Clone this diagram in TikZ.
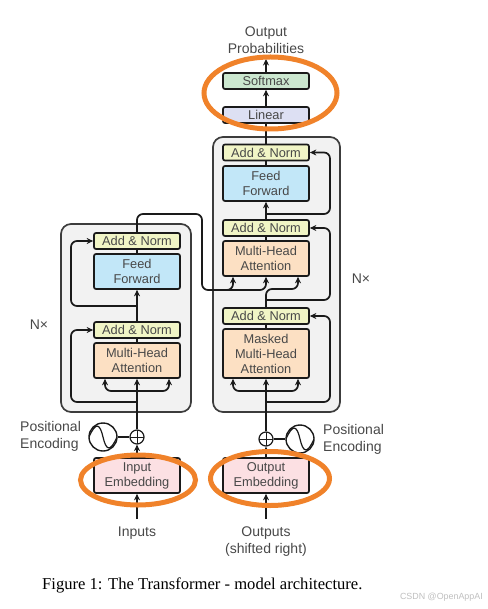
\documentclass[tikz,border=0pt]{standalone}
\usepackage{fontspec}
\setmainfont{Liberation Sans}
\newfontfamily\capfont{Liberation Serif}
\usetikzlibrary{arrows.meta,shapes.geometric}
\definecolor{cAN}{HTML}{F1F5C6}
\definecolor{cFF}{HTML}{C2E7F8}
\definecolor{cMH}{HTML}{FCE0C3}
\definecolor{cSM}{HTML}{CBE7CF}
\definecolor{cLN}{HTML}{DDE0F3}
\definecolor{cEM}{HTML}{FCE0E3}
\definecolor{cPN}{HTML}{F2F2F2}
\definecolor{cOR}{HTML}{F0822A}
\definecolor{cTX}{HTML}{484848}
\definecolor{cLI}{HTML}{1A1A1A}
\tikzset{
  x=1pt,y=-1pt,
  blockbox/.style={draw=cLI,line width=1.7pt,rounded corners=2pt,align=center,inner sep=0pt,
    minimum width=86pt,text=cTX,font=\fontsize{12.8}{15}\selectfont},
  panelbox/.style={draw=cLI!85,fill=cPN,line width=1.7pt,rounded corners=10pt,inner sep=0pt},
  flow/.style={draw=cLI,line width=1.7pt,rounded corners=6pt},
  arrowflow/.style={flow,-{Stealth[length=6.5pt,width=6pt]}},
  lbl/.style={text=cTX,align=center,inner sep=0pt,font=\fontsize{14}{17}\selectfont},
  lbll/.style={lbl,align=left},
  ring/.style={ellipse,draw=cOR,line width=5pt,inner sep=0pt},
  addcircle/.style={circle,draw=cLI,line width=1.2pt,minimum size=14pt,inner sep=0pt,
    path picture={\draw[cLI,line width=1pt] (path picture bounding box.north)--(path picture bounding box.south)
      (path picture bounding box.west)--(path picture bounding box.east);}},
  sinecircle/.style={circle,draw=cLI,line width=1.4pt,minimum size=28pt,inner sep=0pt,
    path picture={\draw[cLI,line width=1.2pt] ([xshift=-14pt]path picture bounding box.center)
      .. controls ([xshift=-7pt,yshift=16pt]path picture bounding box.center)
      and ([xshift=-3pt,yshift=13pt]path picture bounding box.center) .. (path picture bounding box.center)
      .. controls ([xshift=3pt,yshift=-13pt]path picture bounding box.center)
      and ([xshift=7pt,yshift=-16pt]path picture bounding box.center) .. ([xshift=14pt]path picture bounding box.center);}},
}
\begin{document}
\begin{tikzpicture}
\useasboundingbox (0,0) rectangle (487,609);
% panels
\node[panelbox,minimum width=130pt,minimum height=188pt] (encpanel) at (126,318) {};
\node[panelbox,minimum width=127pt,minimum height=275pt] (decpanel) at (276.5,274.5) {};
% encoder
\node[blockbox,fill=cAN,minimum height=16pt] (an2) at (137,241) {Add \& Norm};
\node[blockbox,fill=cFF,minimum height=35pt] (ff1) at (137,271.5) {Feed\\Forward};
\node[blockbox,fill=cAN,minimum height=16pt] (an1) at (137,330) {Add \& Norm};
\node[blockbox,fill=cMH,minimum height=35pt] (mh1) at (137,360.5) {Multi-Head\\Attention};
\node[blockbox,fill=cEM,minimum height=35pt] (em1) at (137,475.5) {Input\\Embedding};
% decoder
\node[blockbox,fill=cSM,minimum height=16pt] (sm) at (266,81) {Softmax};
\node[blockbox,fill=cLN,minimum height=16pt] (ln) at (266,115) {Linear};
\node[blockbox,fill=cAN,minimum height=16pt] (an5) at (266,152.5) {Add \& Norm};
\node[blockbox,fill=cFF,minimum height=35pt] (ff2) at (266,183.5) {Feed\\Forward};
\node[blockbox,fill=cAN,minimum height=16pt] (an4) at (266,228) {Add \& Norm};
\node[blockbox,fill=cMH,minimum height=35pt] (mh3) at (266,258.5) {Multi-Head\\Attention};
\node[blockbox,fill=cAN,minimum height=16pt] (an3) at (266,316) {Add \& Norm};
\node[blockbox,fill=cMH,minimum height=49pt] (mh2) at (266,353.5) {Masked\\Multi-Head\\Attention};
\node[blockbox,fill=cEM,minimum height=35pt] (em2) at (266,475.5) {Output\\Embedding};
% positional encoding
\node[addcircle] (addL) at (137,437) {};
\node[sinecircle] (sinL) at (103,437) {};
\node[addcircle] (addR) at (266,439) {};
\node[sinecircle] (sinR) at (300,439) {};
% labels
\node[lbl] (outp) at (266,40) {Output\\Probabilities};
\node[lbl] (nxL) at (39,325) {N×};
\node[lbl] (nxR) at (361,279) {N×};
\node[lbll,anchor=west] (peL) at (20,436) {Positional\\Encoding};
\node[lbll,anchor=west] (peR) at (323,439) {Positional\\Encoding};
\node[lbl] (inp) at (137,533) {Inputs};
\node[lbl] (outs) at (266,541.5) {Outputs\\(shifted right)};
\node[anchor=west,inner sep=0pt,text=black,font=\capfont\fontsize{16.6}{18}\selectfont] (cap) at (42,585) {Figure 1: The Transformer - model architecture.};
\node[anchor=east,inner sep=0pt,text=black!25,font=\fontsize{8.9}{10}\selectfont] (wm) at (483,597) {CSDN @OpenAppAI};
% free-end coordinates
\coordinate (outtop) at (266,59);
\coordinate (inL) at (137,519);
\coordinate (inR) at (266,519);
\coordinate (mh1in) at (137,391);
\coordinate (mh2in) at (266,391);
% straight connectors
\draw[arrowflow] (sm.north) -- (outtop);
\draw[arrowflow] (ln.north) -- (sm.south);
\draw[flow] (an5.north) -- (ln.south);
\draw[flow] (ff2.north) -- (an5.south);
\draw[arrowflow] (an4.north) -- (ff2.south);
\draw[flow] (mh3.north) -- (an4.south);
\draw[flow] (mh2.north) -- (an3.south);
\draw[flow] (ff1.north) -- (an2.south);
\draw[arrowflow] (an1.north) -- (ff1.south);
\draw[flow] (mh1.north) -- (an1.south);
\draw[arrowflow] (inL) -- (em1.south);
\draw[arrowflow] (inR) -- (em2.south);
\draw[arrowflow] (em1.north) -- (addL.south);
\draw[arrowflow] (em2.north) -- (addR.south);
\draw[flow] (sinL.east) -- (addL.west);
\draw[flow] (sinR.west) -- (addR.east);
\draw[arrowflow] (addL.north) -- (mh1.south);
\draw[arrowflow] (addR.north) -- (mh2.south);
% residual connectors, encoder
\draw[arrowflow] (137,402) -- (71,402) -- (71,330) -- (an1.west);
\draw[arrowflow] (137,306) -- (71,306) -- (71,241) -- (an2.west);
% residual connectors, decoder
\draw[arrowflow] (266,402) -- (330,402) -- (330,316) -- (an3.east);
\draw[arrowflow] (266,300) -- (330,300) -- (330,228) -- (an4.east);
\draw[arrowflow] (266,214) -- (330,214) -- (330,152.5) -- (an5.east);
% attention inputs
\draw[arrowflow] (mh1in) -- (105,391) -- ([xshift=-32pt]mh1.south);
\draw[arrowflow] (mh1in) -- (169,391) -- ([xshift=32pt]mh1.south);
\draw[arrowflow] (mh2in) -- (233,391) -- ([xshift=-33pt]mh2.south);
\draw[arrowflow] (mh2in) -- (298,391) -- ([xshift=32pt]mh2.south);
% encoder to decoder
\draw[flow] (an2.north) -- (137,214) -- (202,214) -- (202,290) -- (233,290);
\draw[arrowflow] (222,290) -- (233,290) -- ([xshift=-33pt]mh3.south);
\draw[arrowflow] (222,290) -- (266,290) -- (mh3.south);
% decoder to attention
\draw[flow] (an3.north) -- (266,300);
\draw[arrowflow] (266,300) -- (266,289) -- (298,289) -- ([xshift=32pt]mh3.south);
% orange rings
\node[ring,minimum width=133pt,minimum height=72pt] (r1) at (270.5,93) {};
\node[ring,minimum width=115pt,minimum height=50pt] (r2) at (138,480) {};
\node[ring,minimum width=119pt,minimum height=54pt] (r3) at (270,478.5) {};
\end{tikzpicture}
\end{document}
